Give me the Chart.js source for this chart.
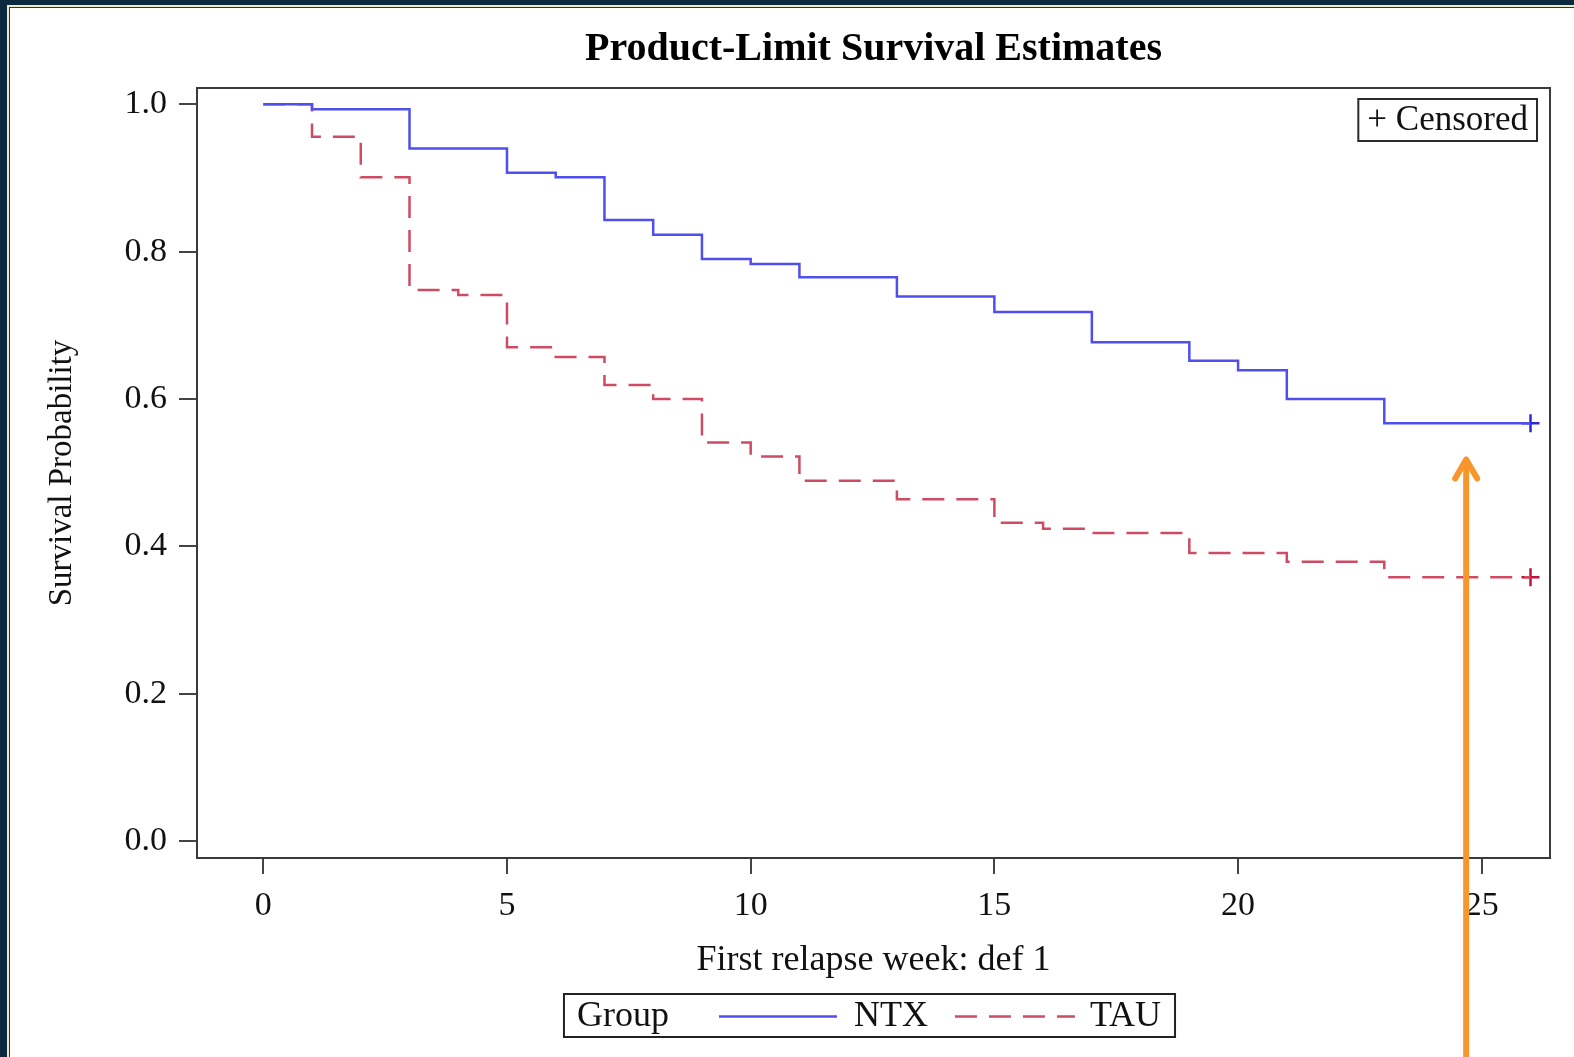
<!DOCTYPE html>
<html lang="en">
<head>
    <meta charset="UTF-8">
    <title>Product-Limit Survival Estimates</title>
    <script src="https://cdn.jsdelivr.net/npm/chart.js@4.4.1/dist/chart.umd.min.js"></script>
    <style>
        html, body { margin: 0; padding: 0; }
        body { width: 1574px; height: 1057px; background: #0b2a40; overflow: hidden; position: relative; }
        .frame { position: absolute; left: 7px; top: 5px; right: 0; bottom: 0; border-left: 2px solid #ecebc3; border-top: 2px solid #ecebc3; }
        .panel { position: absolute; left: 0; top: 0; right: 0; bottom: 0; background: #fff; border-left: 1px solid #333; border-top: 1px solid #333; }
        canvas { position: absolute; left: 0; top: 0; }
    </style>
</head>
<body>
    <div class="frame">
        <div class="panel">
            <canvas id="chart" width="1564" height="1049"></canvas>
        </div>
    </div>

    <script>
        // Kaplan-Meier step values
        const ntxWeeks = [0, 1, 3, 5, 6, 7, 8, 9, 10, 11, 13, 15, 17, 19, 20, 21, 23, 26];
        const ntxSurv = [1.0, 0.993, 0.940, 0.907, 0.901, 0.843, 0.823, 0.790, 0.783, 0.765, 0.739, 0.718, 0.677, 0.652, 0.639, 0.600, 0.567, 0.567];

        const tauWeeks = [0, 1, 2, 3, 4, 5, 6, 7, 8, 9, 10, 11, 13, 15, 16, 17, 19, 21, 23, 26];
        const tauSurv = [1.0, 0.956, 0.901, 0.748, 0.741, 0.670, 0.657, 0.619, 0.600, 0.541, 0.522, 0.489, 0.464, 0.432, 0.424, 0.418, 0.391, 0.379, 0.358, 0.358];

        // censored observations (+)
        const ntxCensorWeeks = [26];
        const ntxCensorSurv = [0.567];
        const tauCensorWeeks = [26];
        const tauCensorSurv = [0.358];

        const weekTicks = [0, 5, 10, 15, 20, 25];
        const survTicks = [0, 0.2, 0.4, 0.6, 0.8, 1.0];

        const serif = '"Liberation Serif", "Times New Roman", serif';
        const blue = '#4f4ff0';
        const red = '#cd4c63';

        const toPoints = (xs, ys) => xs.map((x, i) => ({ x: x, y: ys[i] }));

        // frame, censored box, group legend and the orange arrow
        const decor = {
            id: 'decor',
            afterDraw(chart) {
                const ctx = chart.ctx;
                const a = chart.chartArea;
                const xs = chart.scales.x, ys = chart.scales.y;
                ctx.save();

                // plot frame
                ctx.strokeStyle = '#3a3a3a';
                ctx.lineWidth = 2;
                ctx.strokeRect(a.left, a.top, a.right - a.left, a.bottom - a.top);

                // "+ Censored" box
                ctx.font = '35px ' + serif;
                ctx.fillStyle = '#111';
                ctx.textBaseline = 'middle';
                const ct = '+ Censored';
                const cw = ctx.measureText(ct).width + 18;
                const cx = a.right - 13 - cw, cy = a.top + 11;
                ctx.strokeStyle = '#2b2b2b';
                ctx.strokeRect(cx, cy, cw, 42);
                ctx.fillText(ct, cx + 9, cy + 22);

                // bottom legend
                ctx.font = '36px ' + serif;
                const wG = ctx.measureText('Group').width;
                const wN = ctx.measureText('NTX').width;
                const wT = ctx.measureText('TAU').width;
                const total = 13 + wG + 50 + 118 + 17 + wN + 27 + 120 + 15 + wT + 14;
                let lx = (a.left + a.right) / 2 - 4 - total / 2;
                const ly = a.bottom + 136, lh = 43, mid = ly + lh / 2 + 1;
                ctx.strokeStyle = '#222';
                ctx.lineWidth = 2;
                ctx.strokeRect(lx, ly, total, lh);
                let px = lx + 13;
                ctx.fillText('Group', px, mid);
                px += wG + 50;
                ctx.strokeStyle = blue;
                ctx.lineWidth = 2.5;
                ctx.beginPath();
                ctx.moveTo(px, mid); ctx.lineTo(px + 118, mid);
                ctx.stroke();
                px += 118 + 17;
                ctx.fillText('NTX', px, mid);
                px += wN + 27;
                ctx.strokeStyle = red;
                ctx.setLineDash([22, 12]);
                ctx.beginPath();
                ctx.moveTo(px, mid); ctx.lineTo(px + 120, mid);
                ctx.stroke();
                ctx.setLineDash([]);
                px += 120 + 15;
                ctx.fillText('TAU', px, mid);

                // orange arrow overlay
                const ax = xs.getPixelForValue(24.68);
                const tip = ys.getPixelForValue(0.522);
                ctx.strokeStyle = '#f7962b';
                ctx.lineWidth = 6;
                ctx.beginPath();
                ctx.moveTo(ax, tip + 4); ctx.lineTo(ax, chart.height);
                ctx.stroke();
                ctx.lineCap = 'round';
                ctx.lineJoin = 'round';
                ctx.beginPath();
                ctx.moveTo(ax - 11, tip + 22); ctx.lineTo(ax, tip + 3); ctx.lineTo(ax + 11, tip + 22);
                ctx.stroke();

                ctx.restore();
            }
        };

        const chart = new Chart(document.getElementById('chart'), {
            type: 'line',
            data: {
                datasets: [{
                    label: 'NTX',
                    data: toPoints(ntxWeeks, ntxSurv),
                    stepped: 'before',
                    borderColor: blue,
                    borderWidth: 2.5,
                    pointRadius: 0,
                    fill: false
                }, {
                    label: 'TAU',
                    data: toPoints(tauWeeks, tauSurv),
                    stepped: 'before',
                    borderColor: red,
                    borderWidth: 2.5,
                    borderDash: [22, 12],
                    pointRadius: 0,
                    fill: false
                }, {
                    label: 'NTX censored',
                    data: toPoints(ntxCensorWeeks, ntxCensorSurv),
                    showLine: false,
                    pointStyle: 'cross',
                    pointRadius: 9,
                    borderColor: '#2a2ad6',
                    pointBorderWidth: 2.5
                }, {
                    label: 'TAU censored',
                    data: toPoints(tauCensorWeeks, tauCensorSurv),
                    showLine: false,
                    pointStyle: 'cross',
                    pointRadius: 9,
                    borderColor: '#c0143a',
                    pointBorderWidth: 2.5
                }]
            },
            options: {
                responsive: false,
                animation: false,
                layout: { padding: { left: 0, right: 24, top: 0, bottom: 75 } },
                plugins: {
                    legend: { display: false },
                    tooltip: { enabled: false },
                    title: {
                        display: true,
                        text: 'Product-Limit Survival Estimates',
                        fullSize: false,
                        color: '#000',
                        font: { family: serif, size: 40, weight: 'bold' },
                        padding: { top: 18, bottom: 14 }
                    }
                },
                scales: {
                    x: {
                        type: 'linear',
                        min: -1.36,
                        max: 26.4,
                        afterBuildTicks: s => { s.ticks = weekTicks.map(v => ({ value: v })); },
                        afterFit: s => { s.height = 124; },
                        border: { display: false },
                        grid: { drawOnChartArea: false, tickLength: 16, color: '#444', lineWidth: 2 },
                        ticks: { padding: 12, maxRotation: 0, autoSkip: false, color: '#111', font: { family: serif, size: 34 } },
                        title: { display: true, text: 'First relapse week: def 1', color: '#111', font: { family: serif, size: 36 }, padding: 0 }
                    },
                    y: {
                        type: 'linear',
                        min: -0.023,
                        max: 1.022,
                        afterBuildTicks: s => { s.ticks = survTicks.map(v => ({ value: v })); },
                        afterFit: s => { s.width = 187; },
                        border: { display: false },
                        grid: { drawOnChartArea: false, tickLength: 18, color: '#444', lineWidth: 2 },
                        ticks: { padding: 12, color: '#111', font: { family: serif, size: 34 }, callback: v => v.toFixed(1) },
                        title: { display: true, text: 'Survival Probability', color: '#111', font: { family: serif, size: 33 }, padding: { top: 33 } }
                    }
                }
            },
            plugins: [decor]
        });
    </script>
</body>
</html>
